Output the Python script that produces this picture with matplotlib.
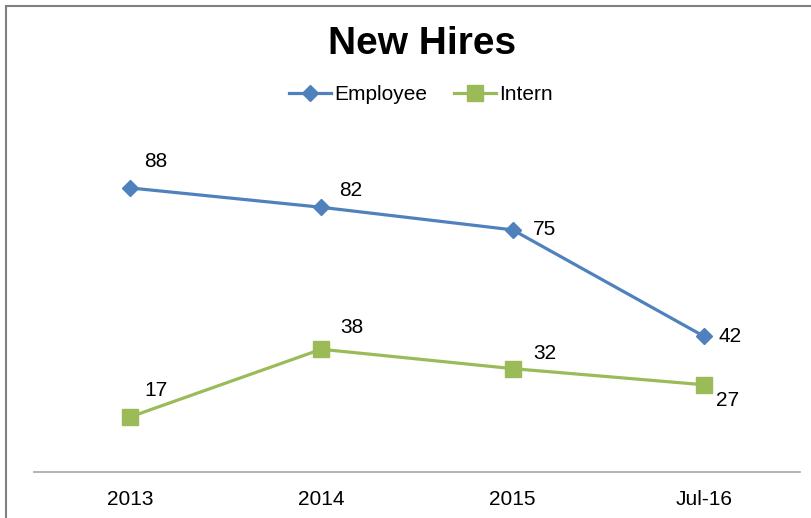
import matplotlib
matplotlib.use("Agg")
import matplotlib.pyplot as plt
from matplotlib.patches import Rectangle

plt.rcParams['font.family'] = ['Liberation Sans', 'DejaVu Sans']

# data
periods = ["2013", "2014", "2015", "Jul-16"]
employee = [88, 82, 75, 42]
intern = [17, 38, 32, 27]

# label offsets (points) for each data label
emp_offsets = [(19, 19), (21, 12), (23, 0), (19, 0)]
int_offsets = [(19, 19), (22, 16), (23, 11), (17, -11)]

blue = "#4F81BD"
green = "#9BBB59"

fig = plt.figure(figsize=(8.12, 5.18), dpi=100)
ax = fig.add_axes([0.042, 0.089, 0.943, 0.623])

x = list(range(len(periods)))
ax.plot(x, employee, color=blue, lw=2.3, marker="D", ms=8, label="Employee")
ax.plot(x, intern, color=green, lw=2.3, marker="s", ms=11, label="Intern")

for i in x:
    ax.annotate(str(employee[i]), (i, employee[i]), xytext=emp_offsets[i],
                textcoords="offset points", ha="center", va="center", fontsize=15)
    ax.annotate(str(intern[i]), (i, intern[i]), xytext=int_offsets[i],
                textcoords="offset points", ha="center", va="center", fontsize=15)

ax.set_xlim(-0.5, 3.5)
ax.set_ylim(0, 100)
ax.set_xticks(x)
ax.set_xticklabels(periods, fontsize=15)
ax.set_yticks([])
ax.tick_params(axis="x", length=0, pad=13)
for s in ["top", "right", "left"]:
    ax.spines[s].set_visible(False)
ax.spines["bottom"].set_color("#A6A6A6")
ax.spines["bottom"].set_linewidth(1.2)

fig.text(0.52, 0.915, "New Hires", ha="center", va="center", fontsize=28, fontweight="bold")
fig.legend(loc="center", bbox_to_anchor=(0.518, 0.817), ncol=2, frameon=False,
           fontsize=15, handlelength=2.0, handletextpad=0.15, columnspacing=1.3)

# outer chart border (only top/left visible in the crop)
fig.patches.append(Rectangle((0.008, -0.1), 1.1, 1.088, transform=fig.transFigure,
                             fill=False, edgecolor="#808080", lw=1.5))

fig.savefig("out.png", dpi=100)
